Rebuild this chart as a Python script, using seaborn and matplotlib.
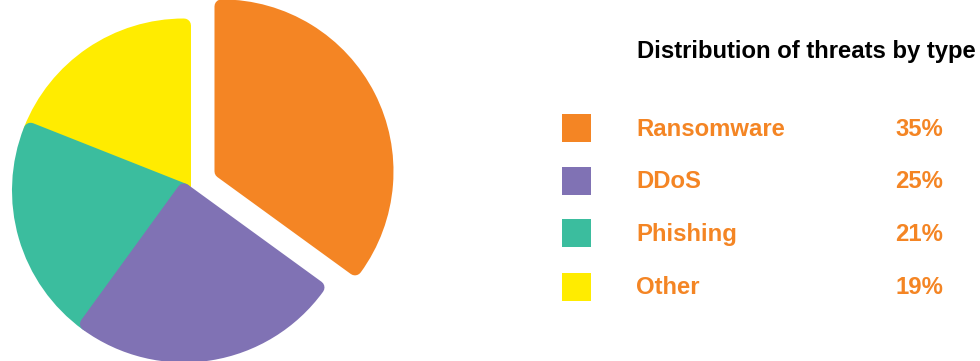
import matplotlib
matplotlib.use("Agg")
import matplotlib.pyplot as plt
import seaborn as sns
from matplotlib.patches import Rectangle

# ---- data ----
categories = ["Ransomware", "DDoS", "Phishing", "Other"]
values = [35, 25, 21, 19]
pct_labels = ["35%", "25%", "21%", "19%"]
title = "Distribution of threats by type"
colors = ["#F48524", "#8072B4", "#3BBD9E", "#FFEC00"]

sns.set_theme(style="white")
plt.rcParams["font.family"] = ["Liberation Sans", "DejaVu Sans"]

W, H = 980, 361
fig = plt.figure(figsize=(W / 100, H / 100), dpi=100)
ax = fig.add_axes([0, 0, 1, 1])

# rounded-corner slices: shrunken wedges with a thick round-joined edge
d = 7.0                      # rounding radius in px
lw_pt = 2 * d * 72 / 100     # edge width in points
cx, cy = 184.0, 170.5        # pie centre in px (y up)
r0 = 172 - d
explode_frac = [0.255, 0, 0, 0]   # fraction of radius

wedges, _ = ax.pie(values, colors=colors, startangle=90, counterclock=False,
                   explode=[e * r0 for e in explode_frac], center=(cx, cy),
                   radius=r0,
                   wedgeprops=dict(linewidth=lw_pt, joinstyle="round"))
zorders = [4, 3, 2, 1]
for w, c, z in zip(wedges, colors, zorders):
    w.set_edgecolor(c)
    w.set_zorder(z)

ax.set_xlim(0, W)
ax.set_ylim(0, H)
ax.set_aspect("equal")
ax.axis("off")

def Y(ypix):
    return H - ypix

# title
ax.text(637, Y(58), title, fontsize=17.2, fontweight="bold", color="#000000",
        ha="left", va="baseline")

# legend rows
row_y = [127.5, 180.5, 233.3, 286.5]
for cat, pct, c, yc in zip(categories, pct_labels, colors, row_y):
    ax.add_patch(Rectangle((562, Y(yc) - 14), 29, 28, facecolor=c,
                           edgecolor="none", zorder=5))
    ax.text(636, Y(yc + 8), cat, fontsize=17.2, fontweight="bold",
            color=colors[0], ha="left", va="baseline")
    ax.text(943, Y(yc + 8), pct, fontsize=17.2, fontweight="bold",
            color=colors[0], ha="right", va="baseline")

fig.savefig("out.png", dpi=100, facecolor="white")
